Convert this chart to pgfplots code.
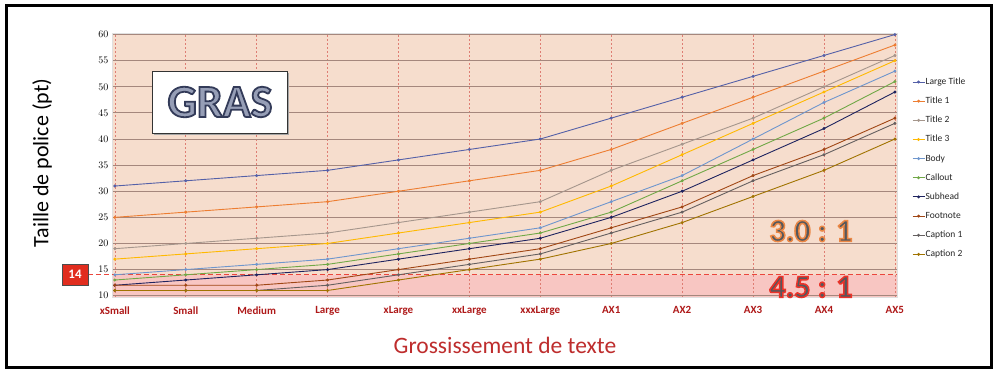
\documentclass[border=0pt]{standalone}
\usepackage{pgfplots}
\pgfplotsset{compat=1.18}
\usepackage{pgfplotstable}
\usepackage{fontspec}
\setmainfont{Carlito}
\definecolor{cLT}{RGB}{84,96,168}
\definecolor{cT1}{RGB}{237,125,49}
\definecolor{cT2}{RGB}{165,150,140}
\definecolor{cT3}{RGB}{255,185,0}
\definecolor{cBody}{RGB}{110,150,205}
\definecolor{cCall}{RGB}{112,168,70}
\definecolor{cSub}{RGB}{30,35,95}
\definecolor{cFoot}{RGB}{160,70,20}
\definecolor{cCap1}{RGB}{100,95,95}
\definecolor{cCap2}{RGB}{160,115,0}
\definecolor{peach}{RGB}{246,221,205}
\definecolor{pinkz}{RGB}{248,198,194}
\definecolor{gridh}{RGB}{165,135,125}
\definecolor{gridv}{RGB}{222,125,115}
\definecolor{darkred}{RGB}{175,25,25}
\definecolor{xlab}{RGB}{190,45,45}
\definecolor{thr}{RGB}{235,70,60}
\definecolor{boxred}{RGB}{225,45,30}
\definecolor{ratiofill}{RGB}{85,88,92}
\definecolor{grasfill}{RGB}{150,158,182}
\pgfplotstableread{
x LT T1 T2 T3 Body Call Sub Foot Cap1 Cap2
0 31 25 19 17 14 13 12 12 11 11
1 32 26 20 18 15 14 13 12 11 11
2 33 27 21 19 16 15 14 12 11 11
3 34 28 22 20 17 16 15 13 12 11
4 36 30 24 22 19 18 17 15 14 13
5 38 32 26 24 21 20 19 17 16 15
6 40 34 28 26 23 22 21 19 18 17
7 44 38 34 31 28 26 25 23 22 20
8 48 43 39 37 33 32 30 27 26 24
9 52 48 44 43 40 38 36 33 32 29
10 56 53 50 49 47 44 42 38 37 34
11 60 58 56 55 53 51 49 44 43 40
}\data
% #1 stroke colour as "r g b", #2 stroke width, #3 text
\newcommand\outl[3]{\special{pdf:literal direct 2 Tr #2 w #1 RG}#3\special{pdf:literal direct 0 Tr 1 w 0 0 0 RG}}
\begin{document}
\begin{tikzpicture}
\begin{scope}[x=1pt,y=1pt]
\useasboundingbox (0,0) rectangle (1000,377);
\fill[white] (0,0) rectangle (1000,377);
\fill[peach] (112,80) rectangle (897,344);
\fill[pinkz] (112,80) rectangle (897,102.2);
\end{scope}
\begin{axis}[
  at={(112pt,80pt)}, anchor=south west,
  scale only axis, width=785pt, height=264pt,
  xmin=-0.04, xmax=11.03, ymin=9.75, ymax=60.3,
  clip=false,
  xtick={0,...,11},
  xticklabels={xSmall,Small,Medium,Large,xLarge,xxLarge,xxxLarge,AX1,AX2,AX3,AX4,AX5},
  ytick={10,15,...,60},
  xmajorgrids, ymajorgrids,
  x grid style={gridv, dash pattern=on 2pt off 2pt, line width=0.55pt},
  y grid style={gridh, line width=0.9pt},
  axis line style={draw=black!12},
  tick style={draw=none},
  xticklabel style={font=\bfseries\fontsize{11}{13}\selectfont, text=darkred, inner sep=1pt, yshift=-8.5pt},
  yticklabel style={font=\bfseries\fontsize{10}{12}\selectfont},
  every axis plot/.append style={line width=0.9pt, mark=*, mark size=1pt},
  legend cell align=left,
  legend style={at={(1.019,0.834)}, anchor=north west, draw=none, fill=none,
    inner sep=0pt, row sep=9.15pt,
    font=\fontsize{9.5}{10}\selectfont, text=black!85,
    nodes={inner sep=0.5pt, text height=7pt, text depth=2pt}},
  legend image code/.code={\draw[mark repeat=2,mark phase=2,#1] plot coordinates {(0pt,0pt) (6pt,0pt) (12pt,0pt)};},
]
\draw[thr, line width=1.2pt, dash pattern=on 5pt off 3pt] (axis cs:-0.381,14) -- (axis cs:11.03,14);
\addplot[cLT] table[x=x,y=LT]{\data};
\addlegendentry{Large Title}
\addplot[cT1] table[x=x,y=T1]{\data};
\addlegendentry{Title 1}
\addplot[cT2] table[x=x,y=T2]{\data};
\addlegendentry{Title 2}
\addplot[cT3] table[x=x,y=T3]{\data};
\addlegendentry{Title 3}
\addplot[cBody] table[x=x,y=Body]{\data};
\addlegendentry{Body}
\addplot[cCall] table[x=x,y=Call]{\data};
\addlegendentry{Callout}
\addplot[cSub] table[x=x,y=Sub]{\data};
\addlegendentry{Subhead}
\addplot[cFoot] table[x=x,y=Foot]{\data};
\addlegendentry{Footnote}
\addplot[cCap1] table[x=x,y=Cap1]{\data};
\addlegendentry{Caption 1}
\addplot[cCap2] table[x=x,y=Cap2]{\data};
\addlegendentry{Caption 2}
\end{axis}
\begin{scope}[x=1pt,y=1pt]
\draw[line width=3pt] (6.5,9) rectangle (991.5,371);
% GRAS box
\fill[black!35] (154,242) rectangle (289,304);
\draw[fill=white, draw=black!80, line width=0.8pt] (152,244) rectangle (287,306);
\node[text=grasfill, font=\bfseries\fontsize{46}{46}\selectfont, inner sep=0pt] at (220,275) {\outl{0.2 0.23 0.35}{1.8}{GRAS}};
\node[text=ratiofill, font=\bfseries\fontsize{32}{32}\selectfont, inner sep=0pt] at (811,146) {\outl{0.92 0.53 0.27}{1.5}{3.0 : 1}};
\node[text=ratiofill, font=\bfseries\fontsize{32}{32}\selectfont, inner sep=0pt] at (811,90) {\outl{0.92 0.2 0.16}{1.5}{4.5 : 1}};
\node[fill=boxred, draw=black!70, line width=0.6pt, minimum width=26pt, minimum height=21pt, inner sep=0pt, text=white, font=\bfseries\fontsize{13}{13}\selectfont] at (75,102.5) {14};
\node[rotate=90, font=\fontsize{22}{22}\selectfont] at (42,214) {Taille de police (pt)};
\node[text=xlab, font=\fontsize{23.5}{23.5}\selectfont] at (505,32) {Grossissement de texte};
\end{scope}
\end{tikzpicture}
\end{document}
